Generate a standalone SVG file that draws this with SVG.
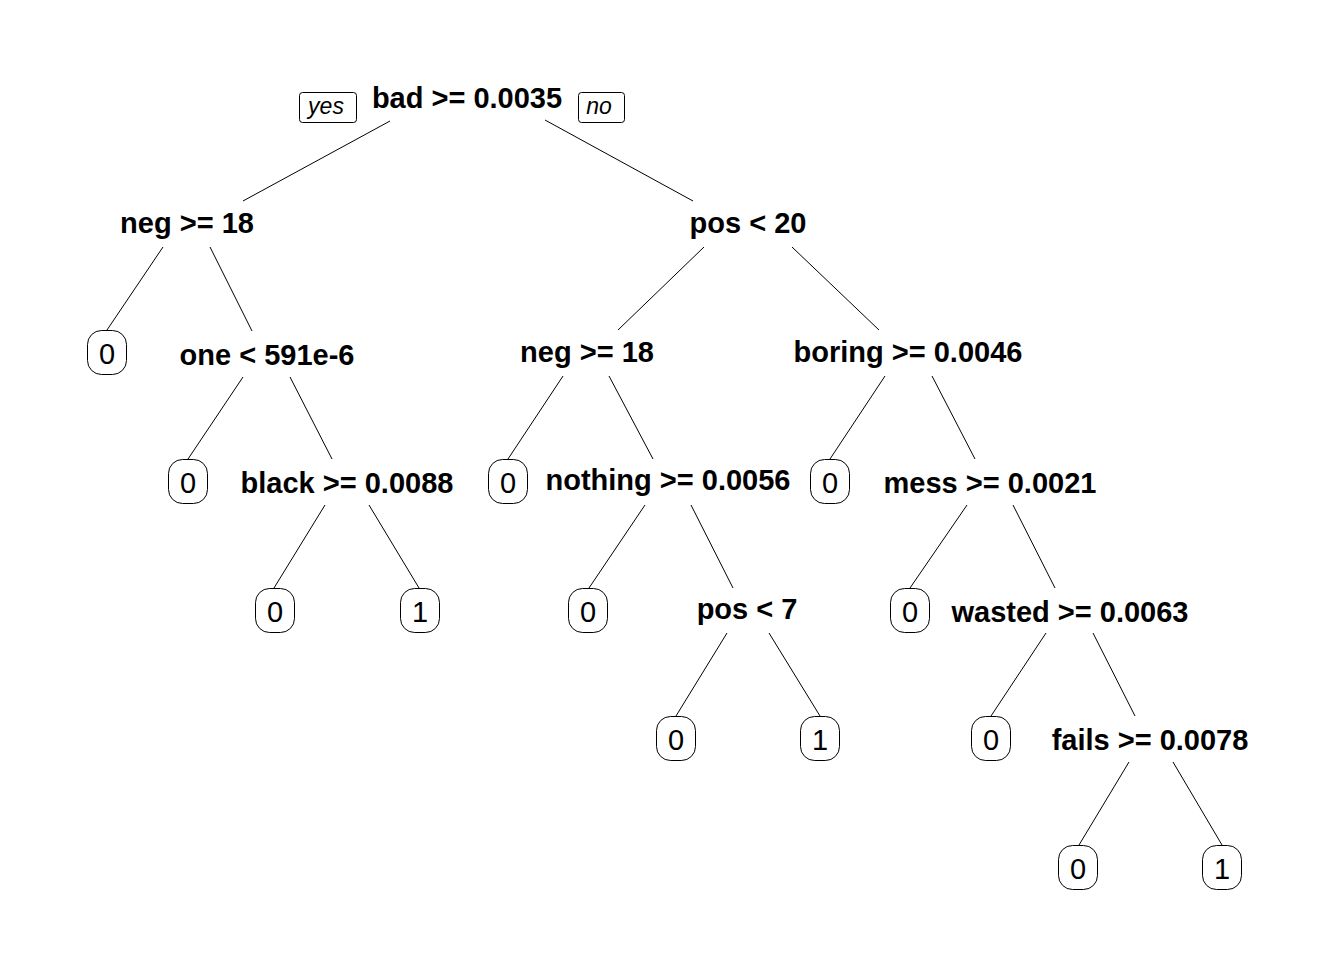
<svg xmlns="http://www.w3.org/2000/svg" width="1344" height="960" viewBox="0 0 1344 960">
<style>
.split{font-family:"Liberation Sans",Arial,sans-serif;font-weight:bold;font-size:29px;fill:#000;text-anchor:middle}
.leaf text{font-family:"Liberation Sans",Arial,sans-serif;font-size:29px;fill:#000;text-anchor:middle}
.leaf rect{fill:#fff;stroke:#000;stroke-width:1}
.lab rect{fill:#fff;stroke:#000;stroke-width:1}
.lab text{font-family:"Liberation Sans",Arial,sans-serif;font-style:italic;font-size:23px;fill:#000;text-anchor:middle}
#edges line{stroke:#000;stroke-width:1}
</style>
<rect width="1344" height="960" fill="#fff"/>
<g id="edges">
<line x1="390" y1="121" x2="243" y2="201"/>
<line x1="545" y1="120" x2="693" y2="201"/>
<line x1="163" y1="247" x2="107" y2="330"/>
<line x1="210" y1="247" x2="252" y2="331"/>
<line x1="704" y1="247" x2="618" y2="330"/>
<line x1="792" y1="247" x2="879" y2="330"/>
<line x1="243" y1="377" x2="188" y2="459"/>
<line x1="290" y1="377" x2="332" y2="459"/>
<line x1="563" y1="376" x2="508" y2="459"/>
<line x1="609" y1="376" x2="653" y2="459"/>
<line x1="885" y1="376" x2="830" y2="459"/>
<line x1="932" y1="376" x2="975" y2="459"/>
<line x1="325" y1="505" x2="274" y2="588"/>
<line x1="369" y1="505" x2="419" y2="588"/>
<line x1="645" y1="505" x2="589" y2="588"/>
<line x1="691" y1="505" x2="733" y2="588"/>
<line x1="967" y1="505" x2="910" y2="588"/>
<line x1="1013" y1="505" x2="1055" y2="588"/>
<line x1="727" y1="633" x2="676" y2="716"/>
<line x1="769" y1="633" x2="820" y2="716"/>
<line x1="1046" y1="633" x2="991" y2="716"/>
<line x1="1093" y1="633" x2="1135" y2="716"/>
<line x1="1129" y1="762" x2="1079" y2="845"/>
<line x1="1173" y1="762" x2="1222" y2="845"/>
</g>
<g id="yes" class="lab"><rect x="299.5" y="92.5" width="57" height="30" rx="3"/><text x="326" y="114">yes</text></g>
<g id="no" class="lab"><rect x="578.5" y="92.5" width="46" height="30" rx="3"/><text x="599" y="114">no</text></g>
<g id="n1"><text class="split" x="467" y="108">bad &gt;= 0.0035</text></g>
<g id="n2"><text class="split" x="187" y="233">neg &gt;= 18</text></g>
<g id="n3"><text class="split" x="748" y="233">pos &lt; 20</text></g>
<g id="n4" class="leaf"><rect x="87.5" y="330.5" width="39" height="44" rx="14"/><text x="107" y="364">0</text></g>
<g id="n5"><text class="split" x="267" y="365">one &lt; 591e-6</text></g>
<g id="n6"><text class="split" x="587" y="362">neg &gt;= 18</text></g>
<g id="n7"><text class="split" x="908" y="362">boring &gt;= 0.0046</text></g>
<g id="n10" class="leaf"><rect x="168.5" y="459.5" width="39" height="44" rx="14"/><text x="188" y="493">0</text></g>
<g id="n11"><text class="split" x="347" y="493">black &gt;= 0.0088</text></g>
<g id="n12" class="leaf"><rect x="488.5" y="459.5" width="39" height="44" rx="14"/><text x="508" y="493">0</text></g>
<g id="n13"><text class="split" x="668" y="490">nothing &gt;= 0.0056</text></g>
<g id="n14" class="leaf"><rect x="810.5" y="459.5" width="39" height="44" rx="14"/><text x="830" y="493">0</text></g>
<g id="n15"><text class="split" x="990" y="493">mess &gt;= 0.0021</text></g>
<g id="n22" class="leaf"><rect x="255.5" y="588.5" width="39" height="44" rx="14"/><text x="275" y="622">0</text></g>
<g id="n23" class="leaf"><rect x="400.5" y="588.5" width="39" height="44" rx="14"/><text x="420" y="622">1</text></g>
<g id="n26" class="leaf"><rect x="568.5" y="588.5" width="39" height="44" rx="14"/><text x="588" y="622">0</text></g>
<g id="n27"><text class="split" x="747" y="619">pos &lt; 7</text></g>
<g id="n30" class="leaf"><rect x="890.5" y="588.5" width="39" height="44" rx="14"/><text x="910" y="622">0</text></g>
<g id="n31"><text class="split" x="1070" y="622">wasted &gt;= 0.0063</text></g>
<g id="n54" class="leaf"><rect x="656.5" y="716.5" width="39" height="44" rx="14"/><text x="676" y="750">0</text></g>
<g id="n55" class="leaf"><rect x="800.5" y="716.5" width="39" height="44" rx="14"/><text x="820" y="750">1</text></g>
<g id="n62" class="leaf"><rect x="971.5" y="716.5" width="39" height="44" rx="14"/><text x="991" y="750">0</text></g>
<g id="n63"><text class="split" x="1150" y="750">fails &gt;= 0.0078</text></g>
<g id="n126" class="leaf"><rect x="1058.5" y="845.5" width="39" height="44" rx="14"/><text x="1078" y="879">0</text></g>
<g id="n127" class="leaf"><rect x="1202.5" y="845.5" width="39" height="44" rx="14"/><text x="1222" y="879">1</text></g>
</svg>
